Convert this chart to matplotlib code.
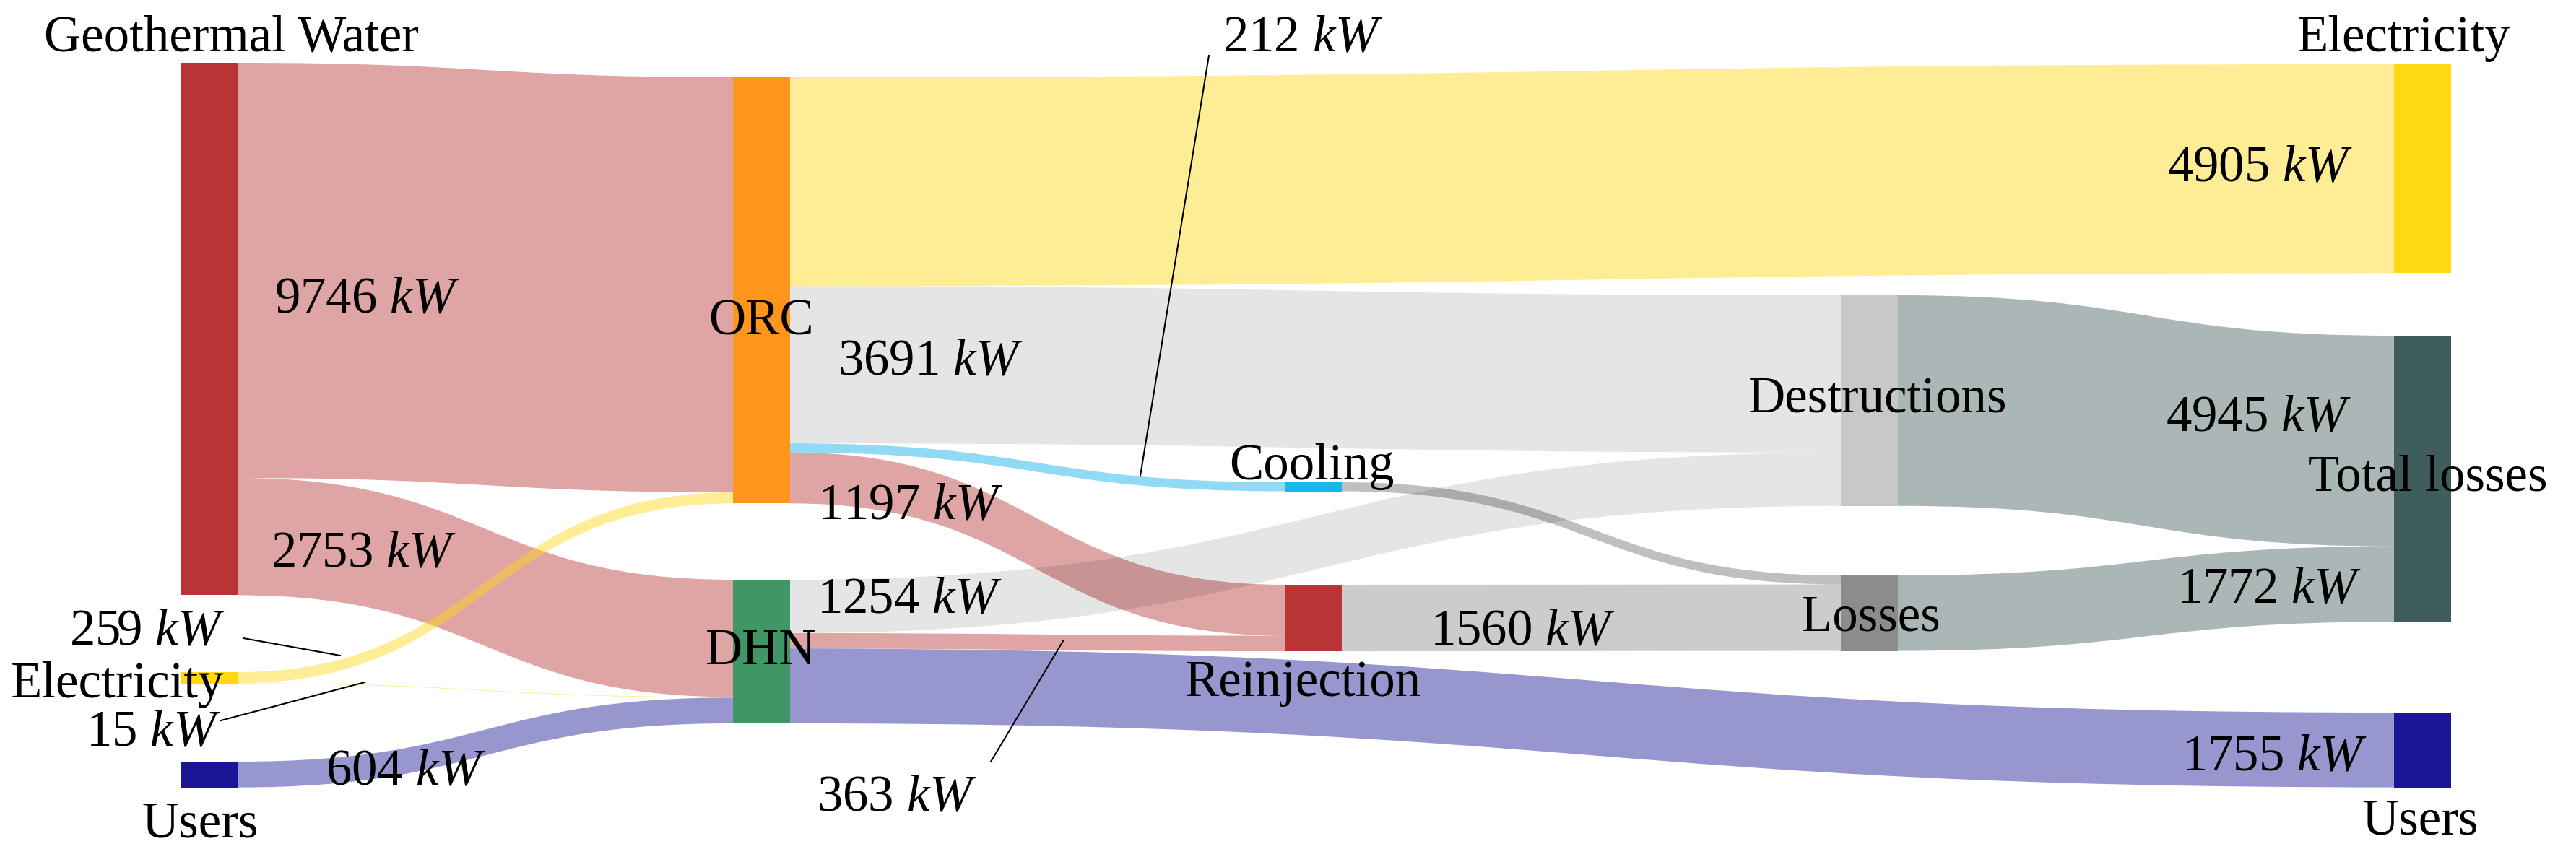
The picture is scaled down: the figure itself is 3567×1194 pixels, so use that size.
import numpy as np
import matplotlib
matplotlib.use("Agg")
import matplotlib.pyplot as plt
from matplotlib.path import Path
from matplotlib.patches import PathPatch, Rectangle

plt.rcParams['font.family'] = ['Liberation Serif', 'DejaVu Serif']
plt.rcParams['mathtext.fontset'] = 'custom'
plt.rcParams['mathtext.rm'] = 'Liberation Serif'
plt.rcParams['mathtext.it'] = 'Liberation Serif:italic'

# ---------------- data ----------------
node_labels = ["Geothermal Water", "Electricity", "Users", "ORC", "DHN", "Cooling",
               "Reinjection", "Destructions", "Losses", "Electricity", "Total losses", "Users"]
link_source = [0, 0, 1, 1, 2, 3, 3, 3, 3, 4, 4, 4, 5, 6, 7, 8]
link_target = [3, 4, 3, 4, 4, 9, 7, 5, 6, 7, 6, 11, 8, 8, 10, 10]
link_value = [9746, 2753, 259, 15, 604, 4905, 3691, 212, 1197, 1254, 363, 1755, 212, 1560, 4945, 1772]

# ---------------- styles / layout ----------------
node_colors = ["#B83536", "#FFD814", "#1A1696", "#FF951A", "#409664", "#1AB4EE",
               "#B83536", "#C8C8C8", "#8C8C8C", "#FFD814", "#3F5D5D", "#1A1696"]
link_colors = [(0.72, 0.21, 0.21, 0.45), (0.72, 0.21, 0.21, 0.45),
               (1.0, 0.85, 0.08, 0.45), (1.0, 0.85, 0.08, 0.45),
               (0.10, 0.09, 0.59, 0.45),
               (1.0, 0.85, 0.08, 0.45), (0, 0, 0, 0.10), (0.10, 0.70, 0.93, 0.48),
               (0.72, 0.21, 0.21, 0.45), (0, 0, 0, 0.10), (0.72, 0.21, 0.21, 0.45),
               (0.10, 0.09, 0.59, 0.45), (0, 0, 0, 0.25), (0, 0, 0, 0.20),
               (0.25, 0.36, 0.36, 0.44), (0.25, 0.36, 0.36, 0.44)]
node_col = [0, 0, 0, 1, 1, 2, 2, 3, 3, 4, 4, 4]
col_x = [250, 1015, 1779, 2549, 3315]
node_w = 79
node_top = [87, 931, 1055, 107, 803, 668, 810, 409, 797, 89, 465, 987]
k = 0.059  # px per kW

W, H = 3567, 1194
fig = plt.figure(figsize=(W / 100, H / 100), dpi=100)
ax = fig.add_axes([0, 0, 1, 1])
ax.set_xlim(0, W)
ax.set_ylim(H, 0)
ax.axis('off')

n = len(node_labels)
vin = np.zeros(n); vout = np.zeros(n)
for s, t, v in zip(link_source, link_target, link_value):
    vout[s] += v; vin[t] += v
node_h = [max(a, b) * k for a, b in zip(vin, vout)]

out_off = list(node_top); in_off = list(node_top)
link_geom = {}
order_out = sorted(range(len(link_value)), key=lambda i: node_top[link_target[i]])
for i in order_out:
    s = link_source[i]
    link_geom.setdefault(i, {})['y0'] = out_off[s]
    out_off[s] += link_value[i] * k
order_in = sorted(range(len(link_value)), key=lambda i: node_top[link_source[i]])
for i in order_in:
    t = link_target[i]
    link_geom[i]['y1'] = in_off[t]
    in_off[t] += link_value[i] * k

for i, (s, t, v) in enumerate(zip(link_source, link_target, link_value)):
    x0 = col_x[node_col[s]] + node_w
    x1 = col_x[node_col[t]]
    xm = (x0 + x1) / 2
    th = v * k
    y0 = link_geom[i]['y0']; y1 = link_geom[i]['y1']
    verts = [(x0, y0), (xm, y0), (xm, y1), (x1, y1),
             (x1, y1 + th), (xm, y1 + th), (xm, y0 + th), (x0, y0 + th), (x0, y0)]
    codes = [Path.MOVETO, Path.CURVE4, Path.CURVE4, Path.CURVE4,
             Path.LINETO, Path.CURVE4, Path.CURVE4, Path.CURVE4, Path.CLOSEPOLY]
    ax.add_patch(PathPatch(Path(verts, codes), facecolor=link_colors[i], edgecolor='none', zorder=1))

for j in range(n):
    ax.add_patch(Rectangle((col_x[node_col[j]], node_top[j]), node_w, node_h[j],
                           facecolor=node_colors[j], edgecolor='none', zorder=2))

fs = 51
# node labels: (x, baseline y, ha)
node_label_pos = [(61, 71, 'left'), (15, 966, 'left'), (197, 1159, 'left'),
                  (1054, 463, 'center'), (1054, 920, 'center'), (1816, 664, 'center'),
                  (1805, 964, 'center'), (2600, 572, 'center'), (2590, 873, 'center'),
                  (3181, 71, 'left'), (3196, 680, 'left'), (3270, 1155, 'left')]
for lab, (x, y, ha) in zip(node_labels, node_label_pos):
    ax.text(x, y, lab, fontsize=fs, ha=ha, va='baseline', zorder=4)

# link value labels: (x, baseline y)
link_label_pos = [(380, 432), (375, 784), (96, 892), (119, 1032), (451, 1087),
                  (3001, 251), (1160, 519), (1693, 71), (1132, 719), (1131, 848),
                  (1131, 1123), (3021, 1067), None, (1980, 892), (2999, 597), (3014, 835)]
for v, pos in zip(link_value, link_label_pos):
    if pos is None:
        continue
    ax.text(pos[0], pos[1], f"{v} $kW$", fontsize=fs, ha='left', va='baseline', zorder=4)

# leader lines
leaders = [((1674, 77), (1579, 659)), ((337, 884), (471, 908)),
           ((306, 998), (505, 945)), ((1472, 888), (1372, 1055))]
for (a, b) in leaders:
    ax.plot([a[0], b[0]], [a[1], b[1]], color='black', lw=1.5, zorder=3)

fig.savefig("out.png", dpi=100)
